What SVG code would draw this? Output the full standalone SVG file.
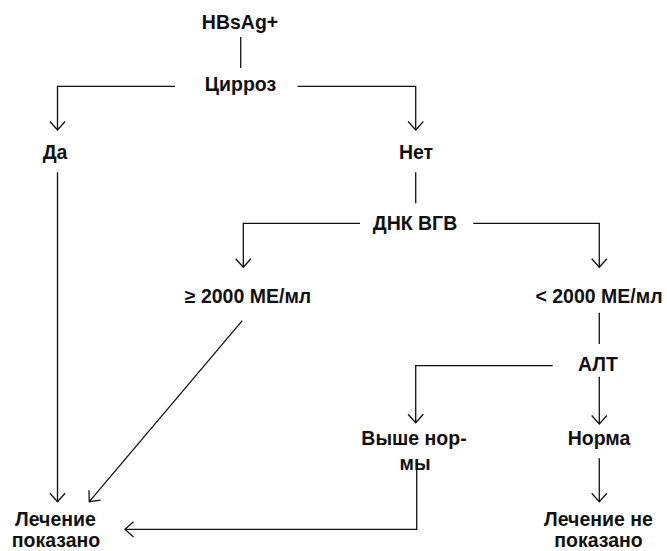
<svg xmlns="http://www.w3.org/2000/svg" width="667" height="551" viewBox="0 0 667 551">
  <style>
    .lbl { font-family: "Liberation Sans", Arial, sans-serif; font-weight: bold; font-size: 19.5px; fill: #111; text-anchor: middle; }
    .edge { fill: none; stroke: #111; stroke-width: 1.3; }
  </style>
  <defs>
    <marker id="arrow" markerUnits="userSpaceOnUse" markerWidth="20" markerHeight="20" viewBox="-10 -10 20 20" refX="0" refY="0" orient="auto">
      <path d="M-8.5,-7.6 L0,0 L-8.5,7.6" fill="none" stroke="#111" stroke-width="1.3"/>
    </marker>
  </defs>
  <rect width="667" height="551" fill="#fff"/>

  <g id="nodes">
    <g id="hbsag"><text class="lbl" x="240" y="29">HBsAg+</text></g>
    <g id="cirrhosis"><text class="lbl" x="240.5" y="91">Цирроз</text></g>
    <g id="yes"><text class="lbl" x="55" y="159">Да</text></g>
    <g id="no"><text class="lbl" x="416" y="159">Нет</text></g>
    <g id="dna"><text class="lbl" x="415" y="229.5">ДНК ВГВ</text></g>
    <g id="dna-high"><text class="lbl" x="248" y="303">≥ 2000 МЕ/мл</text></g>
    <g id="dna-low"><text class="lbl" x="599" y="303">&lt; 2000 МЕ/мл</text></g>
    <g id="alt"><text class="lbl" x="598" y="371">АЛТ</text></g>
    <g id="alt-high">
      <text class="lbl" x="414" y="445">Выше нор-</text>
      <text class="lbl" x="415" y="469.5">мы</text>
    </g>
    <g id="alt-normal"><text class="lbl" x="599" y="445">Норма</text></g>
    <g id="treat">
      <text class="lbl" x="55.5" y="526">Лечение</text>
      <text class="lbl" x="56" y="546.5">показано</text>
    </g>
    <g id="no-treat">
      <text class="lbl" x="598.5" y="526">Лечение не</text>
      <text class="lbl" x="598.5" y="546.5">показано</text>
    </g>
  </g>

  <g id="connectors">
    <path class="edge" d="M240.7,37 V68"/>
    <path class="edge" d="M175,86.3 H57.5 V130" marker-end="url(#arrow)"/>
    <path class="edge" d="M297.7,86.3 H415.7 V130" marker-end="url(#arrow)"/>
    <path class="edge" d="M57.5,172.3 V501.7" marker-end="url(#arrow)"/>
    <path class="edge" d="M415.7,172.3 V203.3"/>
    <path class="edge" d="M360,223.3 H243.3 V267.3" marker-end="url(#arrow)"/>
    <path class="edge" d="M473.3,223.3 H599.3 V267.3" marker-end="url(#arrow)"/>
    <path class="edge" d="M242.3,320.7 L89.3,501.7" marker-end="url(#arrow)"/>
    <path class="edge" d="M599.3,312.7 V344"/>
    <path class="edge" d="M552.7,365.7 H415.7 V422.7" marker-end="url(#arrow)"/>
    <path class="edge" d="M599.3,376.7 V424" marker-end="url(#arrow)"/>
    <path class="edge" d="M416.7,465 V529.3 H125" marker-end="url(#arrow)"/>
    <path class="edge" d="M599.3,458.3 V501.7" marker-end="url(#arrow)"/>
  </g>
</svg>
